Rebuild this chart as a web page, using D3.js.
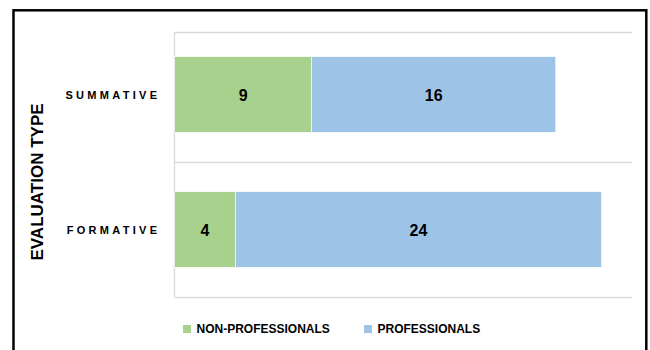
<!DOCTYPE html>
<html>
<head>
<meta charset="utf-8">
<script src="https://cdn.jsdelivr.net/npm/d3@7"></script>
<style>
  html, body { margin: 0; padding: 0; background: #fff; }
  svg { display: block; font-family: "Liberation Sans", Arial, sans-serif; }
</style>
</head>
<body>
<svg id="chart" width="650" height="350"></svg>
<script>
// Evaluation type by respondent group (stacked counts)
const categories = ["SUMMATIVE", "FORMATIVE"];
const seriesNames = ["NON-PROFESSIONALS", "PROFESSIONALS"];
const nonProfessionals = [9, 4];
const professionals = [16, 24];
const axisTitle = "EVALUATION TYPE";

const colors = ["#A9D18E", "#9DC3E6"];

const svg = d3.select("#chart");

// outer frame
svg.append("rect")
  .attr("x", 13.5).attr("y", 10.3)
  .attr("width", 632.8).attr("height", 400)
  .attr("fill", "none").attr("stroke", "#000").attr("stroke-width", 2.5);

const plot = { left: 174.5, right: 632, top: 32, bottom: 297 };

const x = d3.scaleLinear().domain([0, 30]).range([plot.left, plot.right]);
const y = d3.scaleBand()
  .domain(categories)
  .range([plot.top - 5, plot.bottom])
  .paddingInner(0.44)
  .paddingOuter(0.22);

const rows = categories.map((c, i) => ({
  category: c,
  [seriesNames[0]]: nonProfessionals[i],
  [seriesNames[1]]: professionals[i]
}));
const stacked = d3.stack().keys(seriesNames)(rows);

// horizontal gridlines at the plot top and between categories
const gridYs = [plot.top, ...categories.map(c => y(c) - y.step() * y.paddingInner() / 2 + y.step())];
svg.append("g").selectAll("line")
  .data(gridYs)
  .join("line")
  .attr("x1", plot.left).attr("x2", plot.right)
  .attr("y1", d => Math.round(d) + 0.5).attr("y2", d => Math.round(d) + 0.5)
  .attr("stroke", "#D9D9D9").attr("stroke-width", 1.3);

// vertical category axis line
svg.append("line")
  .attr("x1", plot.left).attr("x2", plot.left)
  .attr("y1", plot.top).attr("y2", plot.bottom)
  .attr("stroke", "#D9D9D9").attr("stroke-width", 1.3);

// stacked bars
const layers = svg.append("g").selectAll("g")
  .data(stacked)
  .join("g")
  .attr("fill", (d, i) => colors[i]);

layers.selectAll("rect")
  .data(d => d)
  .join("rect")
  .attr("x", d => x(d[0]))
  .attr("y", d => y(d.data.category))
  .attr("width", d => x(d[1]) - x(d[0]))
  .attr("height", y.bandwidth())
  .attr("stroke", "#fff").attr("stroke-width", 0.6);

// value labels
layers.selectAll("text")
  .data(d => d)
  .join("text")
  .attr("x", d => (x(d[0]) + x(d[1])) / 2)
  .attr("y", d => y(d.data.category) + y.bandwidth() / 2 + 6)
  .attr("text-anchor", "middle")
  .attr("font-size", 16).attr("font-weight", "bold").attr("fill", "#000")
  .text(d => d[1] - d[0]);

// category labels (letter-spaced)
const spacing = 3.3;
svg.append("g").selectAll("text")
  .data(categories)
  .join("text")
  .attr("x", 157 + spacing)
  .attr("y", d => y(d) + y.bandwidth() / 2 + 4.5)
  .attr("text-anchor", "end")
  .attr("font-size", 11).attr("font-weight", "bold").attr("fill", "#000")
  .attr("letter-spacing", spacing)
  .text(d => d);

// axis title
svg.append("text")
  .attr("transform", "translate(43,182) rotate(-90)")
  .attr("text-anchor", "middle")
  .attr("font-size", 17).attr("font-weight", "bold").attr("fill", "#000")
  .text(axisTitle);

// legend
const legendX = [183, 364];
const legend = svg.append("g").selectAll("g")
  .data(seriesNames)
  .join("g")
  .attr("transform", (d, i) => `translate(${legendX[i]},325)`);
legend.append("rect")
  .attr("width", 8).attr("height", 8)
  .attr("fill", (d, i) => colors[i]);
legend.append("text")
  .attr("x", 13.5).attr("y", 8.3)
  .attr("font-size", 12).attr("font-weight", "bold").attr("fill", "#000")
  .text(d => d);
</script>
</body>
</html>
